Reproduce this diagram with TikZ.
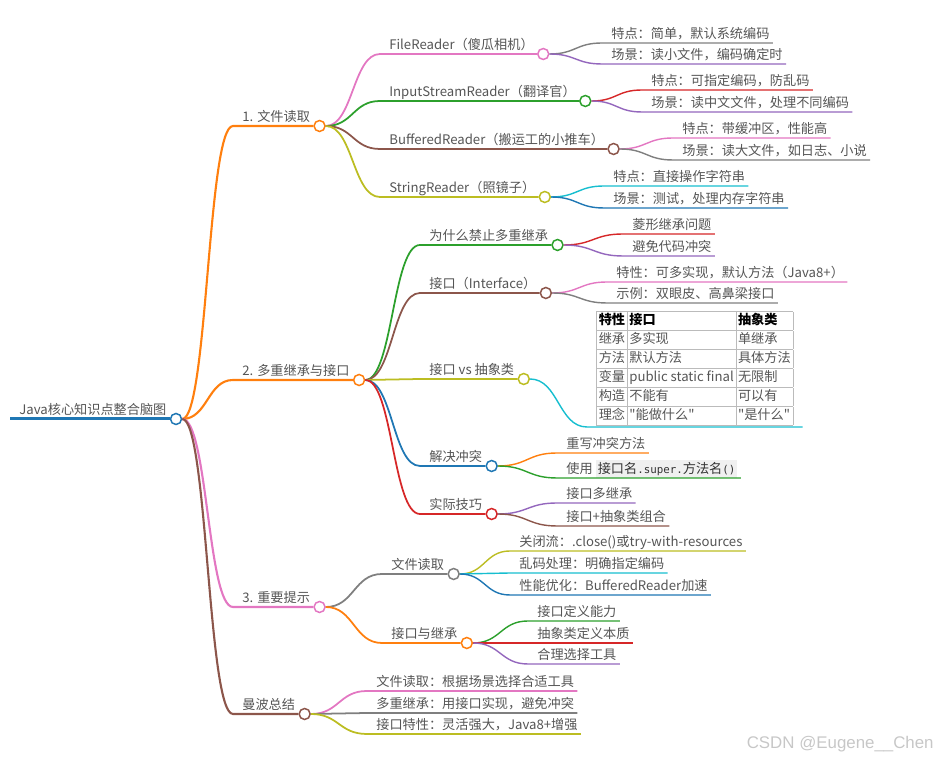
\documentclass[tikz,border=0pt]{standalone}
\usepackage{fontspec}
\setmainfont{Noto Sans CJK SC}[Ligatures=TeXOff]
\setmonofont[Scale=0.82]{DejaVu Sans Mono}
\newfontfamily\wmfont{Liberation Sans}
\usepackage{colortbl}
\usetikzlibrary{calc}
\definecolor{mblue}{HTML}{1F77B4}\definecolor{morange}{HTML}{FF7F0E}
\definecolor{mgreen}{HTML}{2CA02C}\definecolor{mred}{HTML}{D62728}
\definecolor{mpurple}{HTML}{9467BD}\definecolor{mbrown}{HTML}{8C564B}
\definecolor{mpink}{HTML}{E377C2}\definecolor{mgray}{HTML}{7F7F7F}
\definecolor{molive}{HTML}{BCBD22}\definecolor{mcyan}{HTML}{17BECF}
\definecolor{txt}{HTML}{555555}\definecolor{codebg}{HTML}{F0F0F0}
\definecolor{tblrule}{HTML}{BBBBBB}
\begin{document}
\begin{tikzpicture}[x=0.02cm,y=-0.02cm,font=\fontsize{7.5}{9}\selectfont,
  topic/.style={anchor=south west,inner xsep=0.06cm,inner ysep=0pt,text height=0.2cm,text depth=0.085cm,text=txt,execute at begin node={\hspace{0.12cm}}},
  dot/.style={circle,draw=#1,fill=white,line width=0.85pt,minimum size=0.22cm,inner sep=0pt,anchor=west},
  link/.style={to path={let \p1=(\tikztostart),\p2=(\tikztotarget) in .. controls ({(\x1+\x2)/2},\y1) and ({(\x1+\x2)/2},\y2) .. (\tikztotarget)}},
  l0/.style={line width=1.7pt},l1/.style={line width=1.2pt},l2/.style={line width=1pt},l3/.style={line width=0.8pt}]
\useasboundingbox (0,0) rectangle (938,759);

\node[topic] (root) at (10,419) {Java核心知识点整合脑图};
\draw[l0,mblue] (root.south west)--(root.south east); \node[dot=mblue] (rootc) at (root.south east) {};

% level 1
\node[topic] (rd) at (233,126) {1. 文件读取};
\node[topic] (mi) at (233,380) {2. 多重继承与接口};
\node[topic] (tip) at (233,607) {3. 重要提示};
\node[topic] (sum) at (233,714) {曼波总结};
\draw[l1,morange] (rootc.east) to[link] (rd.south west) -- (rd.south east); \node[dot=morange] (rdc) at (rd.south east) {};
\draw[l1,morange] (rootc.east) to[link] (mi.south west) -- (mi.south east); \node[dot=morange] (mic) at (mi.south east) {};
\draw[l1,mpink] (rootc.east) to[link] (tip.south west) -- (tip.south east); \node[dot=mpink] (tipc) at (tip.south east) {};
\draw[l1,mbrown] (rootc.east) to[link] (sum.south west) -- (sum.south east); \node[dot=mbrown] (sumc) at (sum.south east) {};

% 1. file readers
\node[topic] (fr) at (380,54) {FileReader（傻瓜相机）};
\node[topic] (isr) at (380,101) {InputStreamReader（翻译官）};
\node[topic] (br) at (380,149) {BufferedReader（搬运工的小推车）};
\node[topic] (sr) at (380,197) {StringReader（照镜子）};
\draw[l2,mpink] (rdc.east) to[link] (fr.south west) -- (fr.south east); \node[dot=mpink] (frc) at (fr.south east) {};
\draw[l2,mgreen] (rdc.east) to[link] (isr.south west) -- (isr.south east); \node[dot=mgreen] (isrc) at (isr.south east) {};
\draw[l2,mbrown] (rdc.east) to[link] (br.south west) -- (br.south east); \node[dot=mbrown] (brc) at (br.south east) {};
\draw[l2,molive] (rdc.east) to[link] (sr.south west) -- (sr.south east); \node[dot=molive] (src) at (sr.south east) {};

\node[topic] (fr1) at (602,43) {特点：简单，默认系统编码};
\node[topic] (fr2) at (602,64) {场景：读小文件，编码确定时};
\node[topic] (isr1) at (642,90) {特点：可指定编码，防乱码};
\node[topic] (isr2) at (642,112) {场景：读中文文件，处理不同编码};
\node[topic] (br1) at (673,138) {特点：带缓冲区，性能高};
\node[topic] (br2) at (673,160) {场景：读大文件，如日志、小说};
\node[topic] (sr1) at (604,186) {特点：直接操作字符串};
\node[topic] (sr2) at (604,208) {场景：测试，处理内存字符串};
\draw[l3,mgray] (frc.east) to[link] (fr1.south west) -- (fr1.south east);
\draw[l3,mpurple] (frc.east) to[link] (fr2.south west) -- (fr2.south east);
\draw[l3,mred] (isrc.east) to[link] (isr1.south west) -- (isr1.south east);
\draw[l3,mpurple] (isrc.east) to[link] (isr2.south west) -- (isr2.south east);
\draw[l3,mpink] (brc.east) to[link] (br1.south west) -- (br1.south east);
\draw[l3,mgray] (brc.east) to[link] (br2.south west) -- (br2.south east);
\draw[l3,mcyan] (src.east) to[link] (sr1.south west) -- (sr1.south east);
\draw[l3,mblue] (src.east) to[link] (sr2.south west) -- (sr2.south east);

% 2. multiple inheritance
\node[topic] (why) at (420,245) {为什么禁止多重继承};
\node[topic] (itf) at (420,293) {接口（Interface）};
\node[topic] (vs) at (420,379) {接口 vs 抽象类};
\node[topic] (fix) at (420,466) {解决冲突};
\node[topic] (tr) at (420,514) {实际技巧};
\draw[l2,mgreen] (mic.east) to[link] (why.south west) -- (why.south east); \node[dot=mgreen] (whyc) at (why.south east) {};
\draw[l2,mbrown] (mic.east) to[link] (itf.south west) -- (itf.south east); \node[dot=mbrown] (itfc) at (itf.south east) {};
\draw[l2,molive] (mic.east) to[link] (vs.south west) -- (vs.south east); \node[dot=molive] (vsc) at (vs.south east) {};
\draw[l2,mblue] (mic.east) to[link] (fix.south west) -- (fix.south east); \node[dot=mblue] (fixc) at (fix.south east) {};
\draw[l2,mred] (mic.east) to[link] (tr.south west) -- (tr.south east); \node[dot=mred] (trc) at (tr.south east) {};

\node[topic] (why1) at (623,234) {菱形继承问题};
\node[topic] (why2) at (623,256) {避免代码冲突};
\node[topic] (itf1) at (607,282) {特性：可多实现，默认方法（Java8+）};
\node[topic] (itf2) at (607,303) {示例：双眼皮、高鼻梁接口};
\node[anchor=south west,inner xsep=0.18cm,inner ysep=0.02cm,text=txt] (tbl) at (587,427)
  {\arrayrulecolor{tblrule}\setlength\tabcolsep{1pt}\fontsize{7.5}{10.4}\selectfont
  \begin{tabular}{|l|l|l|}\hline
  \color{black}\textbf{特性}&\color{black}\textbf{接口}&\color{black}\textbf{抽象类}\\\hline
  继承&多实现&单继承\\\hline
  方法&默认方法&具体方法\\\hline
  变量&public static final&无限制\\\hline
  构造&不能有&可以有\\\hline
  理念&"能做什么"&"是什么"\\\hline
  \end{tabular}};
\node[topic] (fix1) at (557,453) {重写冲突方法};
\node[topic] (fix2) at (557,478) {使用 {\setlength\fboxsep{1.2pt}\colorbox{codebg}{\color{black!80}接口名{\ttfamily .super.}方法名{\ttfamily ()}}}};
\node[topic] (tr1) at (557,503) {接口多继承};
\node[topic] (tr2) at (557,526) {接口+抽象类组合};
\draw[l3,mred] (whyc.east) to[link] (why1.south west) -- (why1.south east);
\draw[l3,mpurple] (whyc.east) to[link] (why2.south west) -- (why2.south east);
\draw[l3,mpink] (itfc.east) to[link] (itf1.south west) -- (itf1.south east);
\draw[l3,mgray] (itfc.east) to[link] (itf2.south west) -- (itf2.south east);
\draw[l3,mcyan] (vsc.east) to[link] (tbl.south west) -- (tbl.south east);
\draw[l3,morange] (fixc.east) to[link] (fix1.south west) -- (fix1.south east);
\draw[l3,mgreen] (fixc.east) to[link] (fix2.south west) -- (fix2.south east);
\draw[l3,mpurple] (trc.east) to[link] (tr1.south west) -- (tr1.south east);
\draw[l3,mbrown] (trc.east) to[link] (tr2.south west) -- (tr2.south east);

% 3. tips
\node[topic] (tipr) at (382,574) {文件读取};
\node[topic] (tipi) at (382,643) {接口与继承};
\draw[l2,mgray] (tipc.east) to[link] (tipr.south west) -- (tipr.south east); \node[dot=mgray] (tiprc) at (tipr.south east) {};
\draw[l2,morange] (tipc.east) to[link] (tipi.south west) -- (tipi.south east); \node[dot=morange] (tipic) at (tipi.south east) {};
\node[topic] (tipr1) at (510,551) {关闭流：.close()或try-with-resources};
\node[topic] (tipr2) at (510,573) {乱码处理：明确指定编码};
\node[topic] (tipr3) at (510,595) {性能优化：BufferedReader加速};
\node[topic] (tipi1) at (528,621) {接口定义能力};
\node[topic] (tipi2) at (528,643) {抽象类定义本质};
\node[topic] (tipi3) at (528,664) {合理选择工具};
\draw[l3,molive] (tiprc.east) to[link] (tipr1.south west) -- (tipr1.south east);
\draw[l3,mcyan] (tiprc.east) to[link] (tipr2.south west) -- (tipr2.south east);
\draw[l3,mblue] (tiprc.east) to[link] (tipr3.south west) -- (tipr3.south east);
\draw[l3,mgreen] (tipic.east) to[link] (tipi1.south west) -- (tipi1.south east);
\draw[l3,mred] (tipic.east) to[link] (tipi2.south west) -- (tipi2.south east);
\draw[l3,mpurple] (tipic.east) to[link] (tipi3.south west) -- (tipi3.south east);

% summary
\node[topic] (sum1) at (367,691) {文件读取：根据场景选择合适工具};
\node[topic] (sum2) at (367,713) {多重继承：用接口实现，避免冲突};
\node[topic] (sum3) at (367,734) {接口特性：灵活强大，Java8+增强};
\draw[l2,mpink] (sumc.east) to[link] (sum1.south west) -- (sum1.south east);
\draw[l2,mgray] (sumc.east) to[link] (sum2.south west) -- (sum2.south east);
\draw[l2,molive] (sumc.east) to[link] (sum3.south west) -- (sum3.south east);

\node[font=\wmfont\fontsize{9.6}{12}\selectfont,text=black!22,anchor=east,inner sep=0pt] (wm) at (934,744) {CSDN @Eugene\_\_Chen};
\end{tikzpicture}
\end{document}
